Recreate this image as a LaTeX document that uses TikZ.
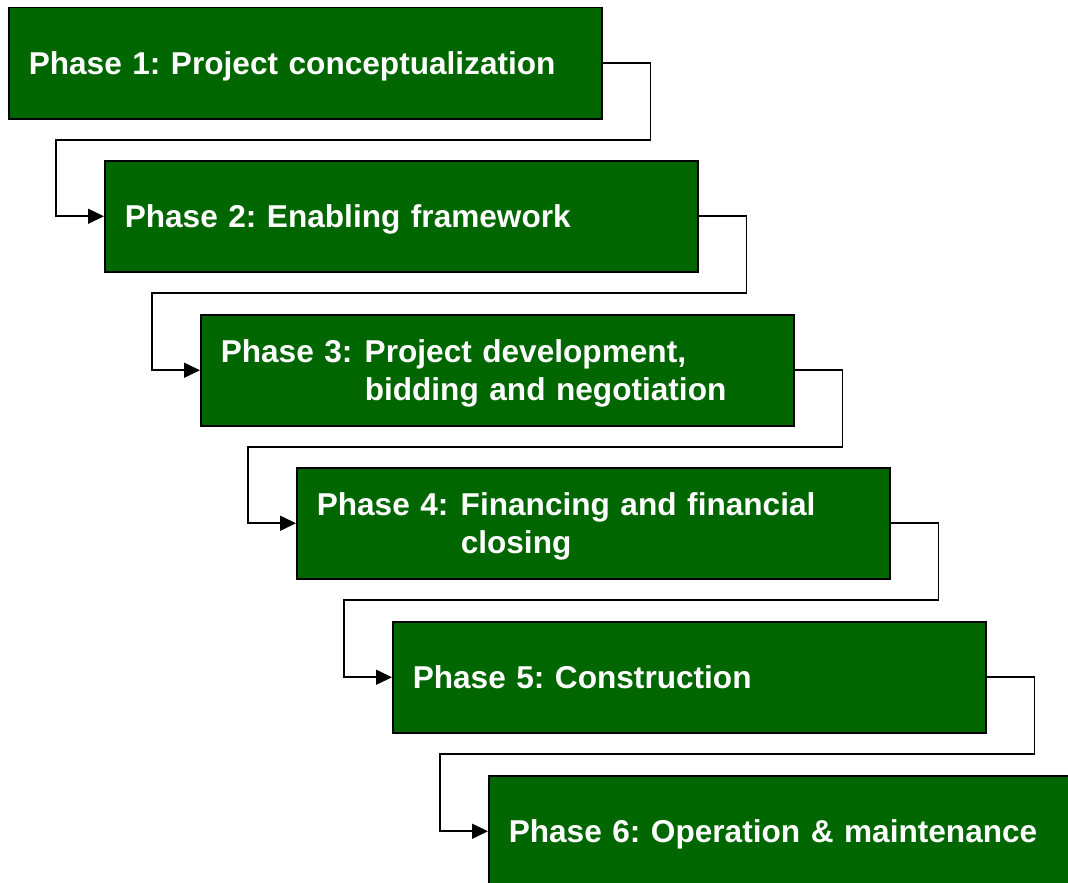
\documentclass[tikz,border=0pt]{standalone}
\usepackage{fontspec}
\setmainfont{Liberation Sans}
\usepackage{tikz}
\usetikzlibrary{%
  calc,%
  arrows.meta%
}
\definecolor{phasegreen}{RGB}{0,102,0}
\frenchspacing

\tikzset{
  phase/.style={draw=black, line width=1.5pt, fill=phasegreen, text=white,
    anchor=north west, minimum height=111pt, text width=553pt,
    inner xsep=20pt, inner ysep=0pt, align=left, text depth=0pt,
    font=\fontsize{31.6}{38}\selectfont\bfseries},
  link/.style={draw=black, line width=1.6pt,
    -{Triangle[length=16pt,width=15pt]}}
}

\begin{document}
\begin{tikzpicture}[x=1pt,y=-1pt]
\path[use as bounding box] (0,0) rectangle (1068,883);
\clip (0,0) rectangle (1068,883);

\node[phase] (p1) at (8,7) {Phase 1: Project conceptualization};
\node[phase] (p2) at (104,160) {Phase 2: Enabling framework};
\node[phase,text depth=38pt] (p3) at (200,314)
  {\makebox[144pt][l]{Phase 3:}\parbox[t]{409pt}{Project development,\\bidding and negotiation}};
\node[phase,text depth=38pt] (p4) at (296,467)
  {\makebox[144pt][l]{Phase 4:}\parbox[t]{409pt}{Financing and financial\\closing}};
\node[phase] (p5) at (392,621) {Phase 5: Construction};
\node[phase] (p6) at (488,775) {Phase 6: Operation \& maintenance};

% elbow links, halfway between neighbouring boxes
\draw[link] (p1.east) -| ($(p1.south east)!.5!(p2.north east)$)
  -| ($(p1.west)!.5!(p2.west)$) |- (p2.west);
\draw[link] (p2.east) -| ($(p2.south east)!.5!(p3.north east)$)
  -| ($(p2.west)!.5!(p3.west)$) |- (p3.west);
\draw[link] (p3.east) -| ($(p3.south east)!.5!(p4.north east)$)
  -| ($(p3.west)!.5!(p4.west)$) |- (p4.west);
\draw[link] (p4.east) -| ($(p4.south east)!.5!(p5.north east)$)
  -| ($(p4.west)!.5!(p5.west)$) |- (p5.west);
\draw[link] (p5.east) -| ($(p5.south east)!.5!(p6.north east)$)
  -| ($(p5.west)!.5!(p6.west)$) |- (p6.west);

\end{tikzpicture}
\end{document}
